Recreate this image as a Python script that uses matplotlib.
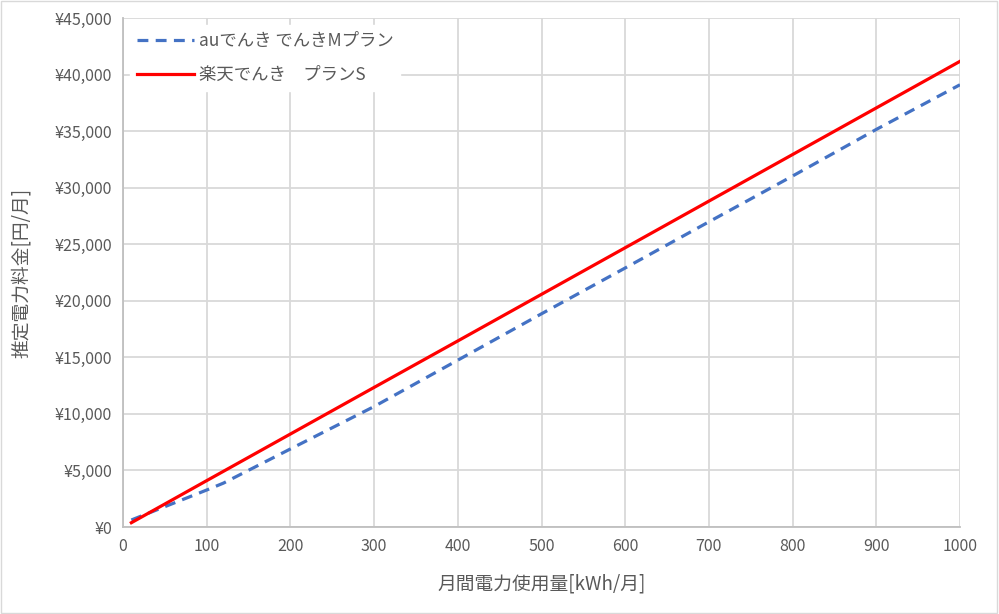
import matplotlib.pyplot as plt
import numpy as np
from matplotlib.ticker import FuncFormatter
from matplotlib.patches import Rectangle

plt.rcParams['font.family'] = ['Noto Sans CJK JP', 'DejaVu Sans']

# kWh / month
kwhAu = [10, 100, 120, 200, 300, 400, 500, 600, 700, 800, 900, 1000]
costAu = [620, 3270, 3880, 6900, 10650, 14750, 18850, 22900, 26980, 31030, 35150, 39100]

kwhRakuten = [10, 100, 200, 300, 400, 500, 600, 700, 800, 900, 1000]
costRakuten = [380, 4100, 8220, 12340, 16450, 20570, 24690, 28810, 32930, 37050, 41170]

labelAu = "auでんき でんきMプラン"
labelRakuten = "楽天でんき　プランS"

gray = "#595959"
gridc = "#d9d9d9"

fig = plt.figure(figsize=(9.99, 6.14), dpi=100)
ax = fig.add_axes([123/999, 87/614, 837/999, 509/614])

ax.plot(kwhAu, costAu, color="#4472c4", lw=2.3, dashes=(3.4, 2.3), label=labelAu)
ax.plot(kwhRakuten, costRakuten, color="#ff0000", lw=2.3, label=labelRakuten)

ax.set_xlim(0, 1000)
ax.set_ylim(0, 45000)
ax.set_xticks(np.arange(0, 1001, 100))
ax.set_yticks(np.arange(0, 45001, 5000))
ax.yaxis.set_major_formatter(FuncFormatter(lambda v, p: "¥{:,.0f}".format(v)))
ax.grid(color=gridc, lw=1.3)
ax.set_axisbelow(True)
for s in ["top", "right"]:
    ax.spines[s].set_visible(False)
for s in ["left", "bottom"]:
    ax.spines[s].set_color("#bfbfbf")
    ax.spines[s].set_linewidth(1.3)
ax.tick_params(colors=gray, labelsize=11.5, length=0, pad=8)

ax.set_xlabel("月間電力使用量[kWh/月]", color=gray, fontsize=13.5, labelpad=13)
ax.set_ylabel("推定電力料金[円/月]", color=gray, fontsize=13.5, labelpad=16)

leg = ax.legend(loc="upper left", bbox_to_anchor=(0.0, 1.0), fontsize=12.5, frameon=True,
                facecolor="white", edgecolor="white", framealpha=1, labelcolor=gray,
                handlelength=3.3, handletextpad=0.25, borderaxespad=0.4, labelspacing=0.95)

fig.patches.append(Rectangle((0.001, 0.001), 0.997, 0.997, transform=fig.transFigure,
                             fill=False, edgecolor=gridc, lw=1))

plt.savefig("out.png")
